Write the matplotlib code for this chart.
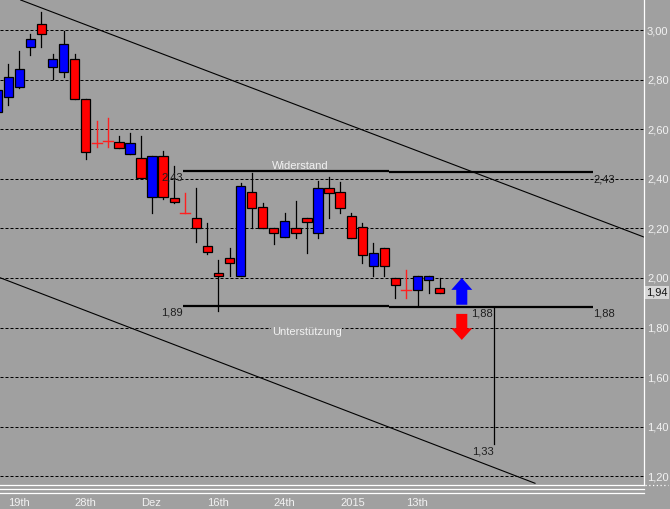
import matplotlib
matplotlib.use("Agg")
import matplotlib.pyplot as plt
from matplotlib.patches import Rectangle, Polygon
from matplotlib.lines import Line2D
import matplotlib.transforms as mtransforms
import numpy as np

# ---------------- data ----------------
opens  = [2.671, 2.731, 2.770, 2.931, 3.024, 2.851, 2.831, 2.883, 2.722, 2.544,
          2.552, 2.548, 2.500, 2.484, 2.328, 2.492, 2.321, 2.261, 2.241, 2.128,
          2.019, 2.079, 2.009, 2.348, 2.288, 2.200, 2.167, 2.200, 2.241, 2.180,
          2.362, 2.348, 2.250, 2.207, 2.050, 2.120, 1.999, 1.952, 1.952, 1.992,
          1.958]
highs  = [2.780, 2.863, 2.915, 2.984, 3.074, 2.903, 2.996, 2.903, 2.722, 2.633,
          2.645, 2.573, 2.585, 2.573, 2.492, 2.512, 2.452, 2.344, 2.362, 2.223,
          2.073, 2.120, 2.382, 2.425, 2.301, 2.200, 2.263, 2.310, 2.241, 2.392,
          2.408, 2.388, 2.261, 2.221, 2.140, 2.120, 1.999, 2.032, 2.009, 2.009,
          1.999]
lows   = [2.660, 2.698, 2.766, 2.899, 2.933, 2.802, 2.810, 2.722, 2.480, 2.528,
          2.528, 2.524, 2.500, 2.403, 2.261, 2.319, 2.301, 2.261, 2.146, 2.097,
          1.868, 2.008, 2.009, 2.200, 2.200, 2.137, 2.167, 2.160, 2.100, 2.160,
          2.241, 2.261, 2.160, 2.059, 2.008, 2.008, 1.918, 1.918, 1.891, 1.938,
          1.938]
closes = [2.758, 2.812, 2.843, 2.964, 2.984, 2.883, 2.944, 2.722, 2.508, 2.544,
          2.552, 2.524, 2.544, 2.403, 2.492, 2.328, 2.308, 2.261, 2.200, 2.106,
          2.009, 2.059, 2.371, 2.281, 2.200, 2.180, 2.230, 2.180, 2.227, 2.362,
          2.342, 2.281, 2.160, 2.093, 2.100, 2.050, 1.972, 1.952, 2.009, 2.009,
          1.938]
positions = list(range(-1, 40))

x_tick_pos = [0, 6, 12, 18, 24, 30, 36]
x_tick_labels = ["19th", "28th", "Dez", "16th", "24th", "2015", "13th"]
y_ticks = [1.2, 1.4, 1.6, 1.8, 2.0, 2.2, 2.4, 2.6, 2.8, 3.0]

resistance_left = 2.431
resistance_right = 2.429
support_left = 1.888
support_right = 1.884
target = 1.33
last_price = 1.94
line_start, line_split, line_end = 15.8, 34.4, 52.9
target_x = 43.95
arrow_x = 41.0

upper_channel_x = [1.12, 57.47]
upper_channel_y = [3.121, 2.165]
lower_channel_x = [-0.75, 47.62]
lower_channel_y = [2.001, 1.172]

# ---------------- style ----------------
BG = '#a0a0a0'
UP = '#0000ff'
DOWN = '#ff0000'
LIGHT = '#f2f2f2'
DARK = '#1e1e1e'
plt.rcParams['font.family'] = ['Liberation Sans', 'DejaVu Sans']

def fmt(v):
    return f"{v:.2f}".replace('.', ',')

W, H = 670, 509
fig = plt.figure(figsize=(W / 100, H / 100), dpi=100, facecolor=BG)
ax = fig.add_axes([0, 24.5 / H, 643.5 / W, 484.5 / H], facecolor=BG)
ax.set_xlim(-0.75, 57.43)
ax.set_ylim(1.167, 3.121)
for s in ax.spines.values():
    s.set_visible(False)

# grid
ax.set_yticks(y_ticks)
ax.set_yticklabels([fmt(v) for v in y_ticks])
ax.yaxis.tick_right()
ax.grid(axis='y', color='black', linestyle=(0, (3, 2)), linewidth=0.72, zorder=0)
ax.set_axisbelow(True)
ax.tick_params(axis='y', length=0, pad=2.5, labelcolor=LIGHT, labelsize=8)
ax.set_xticks(x_tick_pos)
ax.set_xticklabels(x_tick_labels, ha='left')
ax.tick_params(axis='x', length=0, pad=9.5, labelcolor=LIGHT, labelsize=8)

# candles
bw = 0.84
for xi, o, h, l, c in zip(positions, opens, highs, lows, closes):
    if abs(o - c) < 1e-9:
        ax.plot([xi, xi], [l, h], color='#ff2020', lw=1.0, zorder=3)
        ax.plot([xi - 0.45, xi + 0.45], [o, o], color='#ff2020', lw=1.0, zorder=3)
        continue
    ax.plot([xi, xi], [l, h], color='black', lw=0.9, zorder=2)
    col = UP if c > o else DOWN
    ax.add_patch(Rectangle((xi - bw / 2, min(o, c)), bw, abs(c - o),
                           facecolor=col, edgecolor='black', lw=0.9, zorder=3))

# channel lines
ax.plot(upper_channel_x, upper_channel_y, color='black', lw=0.8, zorder=4)
ax.plot(lower_channel_x, lower_channel_y, color='black', lw=0.8, zorder=4)

# resistance / support
kw = dict(color='black', lw=1.6, zorder=4, solid_capstyle='butt')
ax.plot([line_start, line_split], [resistance_left, resistance_left], **kw)
ax.plot([line_split, line_end], [resistance_right, resistance_right], **kw)
ax.plot([line_start, line_split], [support_left, support_left], **kw)
ax.plot([line_split, line_end], [support_right, support_right], **kw)
ax.plot([target_x, target_x], [support_right, target], color='black', lw=0.9, zorder=4)

# arrows
up_poly = [(arrow_x - 0.5, 1.892), (arrow_x + 0.5, 1.892), (arrow_x + 0.5, 1.952),
           (arrow_x + 0.95, 1.952), (arrow_x, 2.0), (arrow_x - 0.95, 1.952),
           (arrow_x - 0.5, 1.952)]
dn_poly = [(arrow_x - 0.5, 1.855), (arrow_x + 0.5, 1.855), (arrow_x + 0.5, 1.797),
           (arrow_x + 0.95, 1.797), (arrow_x, 1.75), (arrow_x - 0.95, 1.797),
           (arrow_x - 0.5, 1.797)]
ax.add_patch(Polygon(up_poly, closed=True, facecolor=UP, edgecolor='none', zorder=5))
ax.add_patch(Polygon(dn_poly, closed=True, facecolor=DOWN, edgecolor='none', zorder=5))

# labels
fs = 8
ax.text(line_start, 2.405, fmt(resistance_left), ha='right', va='center', color=DARK, fontsize=fs, zorder=6)
ax.text(line_end, 2.399, fmt(resistance_right), ha='left', va='center', color=DARK, fontsize=fs, zorder=6)
ax.text(line_start, 1.861, fmt(support_left), ha='right', va='center', color=DARK, fontsize=fs, zorder=6)
ax.text(target_x - 0.1, 1.855, fmt(support_right), ha='right', va='center', color=DARK, fontsize=fs, zorder=6)
ax.text(line_end, 1.855, fmt(support_right), ha='left', va='center', color=DARK, fontsize=fs, zorder=6)
ax.text(target_x - 0.05, 1.300, fmt(target), ha='right', va='center', color=DARK, fontsize=fs, zorder=6)
ax.text(26.43, 2.452, "Widerstand", ha='center', va='center', color=LIGHT, fontsize=fs, zorder=6)
ax.text(27.0, 1.784, "Unterstützung", ha='center', va='center', color=LIGHT, fontsize=fs,
        zorder=6, bbox=dict(facecolor=BG, edgecolor='none', pad=0.5))

trans = mtransforms.blended_transform_factory(ax.transAxes, ax.transData)
ax.text(1.0 + 3 / 643.5, last_price, fmt(last_price), transform=trans,
        ha='left', va='center', color='#111111', fontsize=fs, zorder=6, clip_on=False,
        bbox=dict(facecolor='#d6d6d6', edgecolor='none', pad=1.0))

# white frame lines (figure pixels)
def fl(xs, ys, **kw):
    fig.add_artist(Line2D([x / W for x in xs], [1 - y / H for y in ys],
                          transform=fig.transFigure, color='white', lw=0.9, **kw))

fl([643.5, 643.5], [0, 484.5])
fl([0, 643.5], [484.5, 484.5])
fl([0, 643.5], [488.5, 488.5])
fl([0, 643.5], [492.5, 492.5])
fl([645, 668], [484.5, 484.5], linestyle=(0, (1, 2)))

fig.savefig("out.png", dpi=100, facecolor=BG)
